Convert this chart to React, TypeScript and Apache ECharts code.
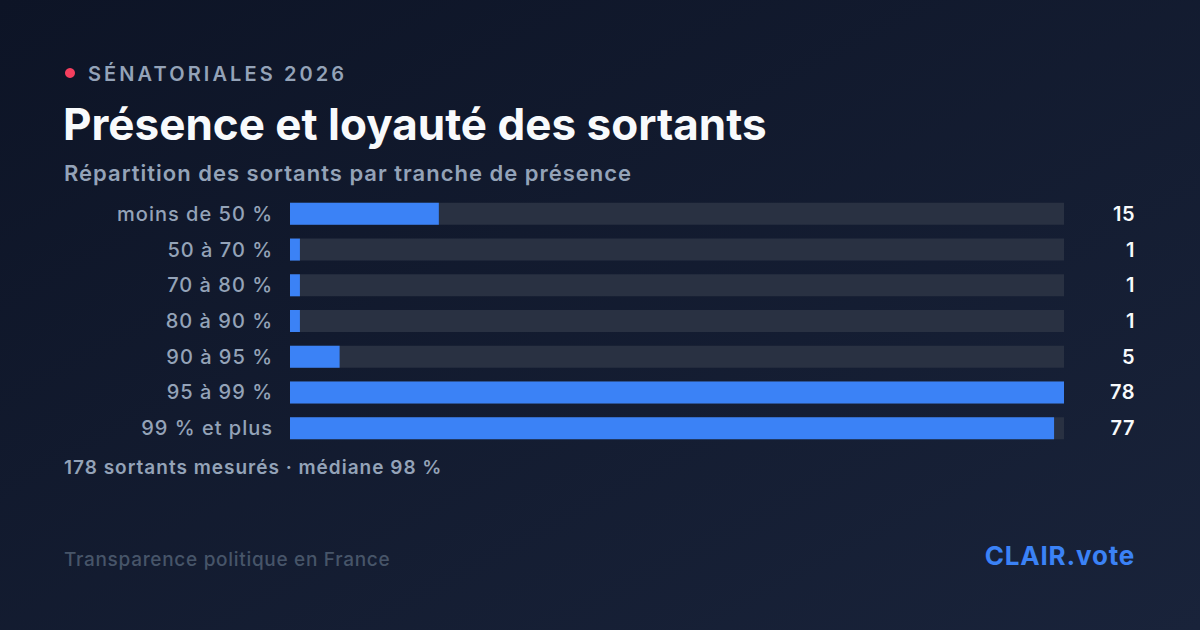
import React, { useEffect, useRef } from "react";
import * as echarts from "echarts";

const categories = [
  "moins de 50 %",
  "50 à 70 %",
  "70 à 80 %",
  "80 à 90 %",
  "90 à 95 %",
  "95 à 99 %",
  "99 % et plus",
];
const counts = [15, 1, 1, 1, 5, 78, 77];
const kicker = "SÉNATORIALES 2026";
const title = "Présence et loyauté des sortants";
const subtitle = "Répartition des sortants par tranche de présence";
const note = "178 sortants mesurés · médiane 98 %";
const footerLeft = "Transparence politique en France";
const brand = "CLAIR.vote";

const FONT = "Inter, 'Noto Sans', sans-serif";

export default function App() {
  const ref = useRef<HTMLDivElement>(null);
  useEffect(() => {
    if (!ref.current) return;
    const el = ref.current;
    const chart = echarts.init(el, undefined, { renderer: "svg" });
    const maxVal = Math.max(...counts);

    const spacing: Record<string, string> = {
      [kicker]: "3.1px",
      [subtitle]: "1px",
      [note]: "1px",
      [footerLeft]: "0.7px",
      [brand]: "0.8px",
    };
    categories.forEach((c) => (spacing[c] = "1px"));
    counts.forEach((v) => (spacing[String(v)] = "0.5px"));

    const applySpacing = () => {
      el.querySelectorAll("text").forEach((t) => {
        const s = spacing[t.textContent || ""];
        if (s) (t as SVGTextElement).style.letterSpacing = s;
      });
    };

    chart.setOption({
      animation: false,
      backgroundColor: new echarts.graphic.LinearGradient(0, 0, 1, 1, [
        { offset: 0, color: "#0d1426" },
        { offset: 1, color: "#19233a" },
      ]),
      textStyle: { fontFamily: FONT },
      grid: { left: 290, right: 136, top: 196, height: 250 },
      xAxis: {
        type: "value",
        min: 0,
        max: maxVal,
        show: false,
      },
      yAxis: [
        {
          type: "category",
          data: categories,
          inverse: true,
          axisLine: { show: false },
          axisTick: { show: false },
          axisLabel: {
            color: "#94a3b8",
            fontSize: 20,
            fontWeight: 500,
            fontFamily: FONT,
            margin: 17,
          },
        },
        {
          type: "category",
          data: counts.map(String),
          inverse: true,
          position: "right",
          axisLine: { show: false },
          axisTick: { show: false },
          axisLabel: {
            color: "#f8fafc",
            fontSize: 20,
            fontWeight: 600,
            fontFamily: FONT,
            align: "right",
            margin: 71,
          },
        },
      ],
      series: [
        {
          type: "bar",
          data: counts,
          yAxisIndex: 0,
          barWidth: 22,
          showBackground: true,
          backgroundStyle: { color: "#293142" },
          itemStyle: { color: "#3b82f6" },
          emphasis: { disabled: true },
        },
      ],
      graphic: [
        { type: "circle", shape: { cx: 70, cy: 73, r: 5 }, style: { fill: "#f43f5e" } },
        {
          type: "text",
          x: 88,
          y: 74,
          style: {
            text: kicker,
            font: `600 20px ${FONT}`,
            fill: "#94a3b8",
            textVerticalAlign: "middle",
          },
        },
        {
          type: "text",
          x: 63,
          y: 124,
          style: {
            text: title,
            font: `700 44px ${FONT}`,
            fill: "#f8fafc",
            textVerticalAlign: "middle",
          },
        },
        {
          type: "text",
          x: 64,
          y: 173,
          style: {
            text: subtitle,
            font: `600 22px ${FONT}`,
            fill: "#94a3b8",
            textVerticalAlign: "middle",
          },
        },
        {
          type: "text",
          x: 64,
          y: 467,
          style: {
            text: note,
            font: `600 19px ${FONT}`,
            fill: "#94a3b8",
            textVerticalAlign: "middle",
          },
        },
        {
          type: "text",
          x: 64,
          y: 559,
          style: {
            text: footerLeft,
            font: `500 19px ${FONT}`,
            fill: "#475569",
            textVerticalAlign: "middle",
          },
        },
        {
          type: "text",
          x: 1135,
          y: 555,
          style: {
            text: brand,
            font: `700 26px ${FONT}`,
            fill: "#3b82f6",
            textAlign: "right",
            textVerticalAlign: "middle",
          },
        },
      ],
    });
    chart.on("finished", applySpacing);
    applySpacing();
    const t = setTimeout(applySpacing, 50);
    return () => {
      clearTimeout(t);
      chart.dispose();
    };
  }, []);
  return (
    <div
      ref={ref}
      style={{ position: "fixed", left: 0, top: 0, width: 1200, height: 630 }}
    />
  );
}
